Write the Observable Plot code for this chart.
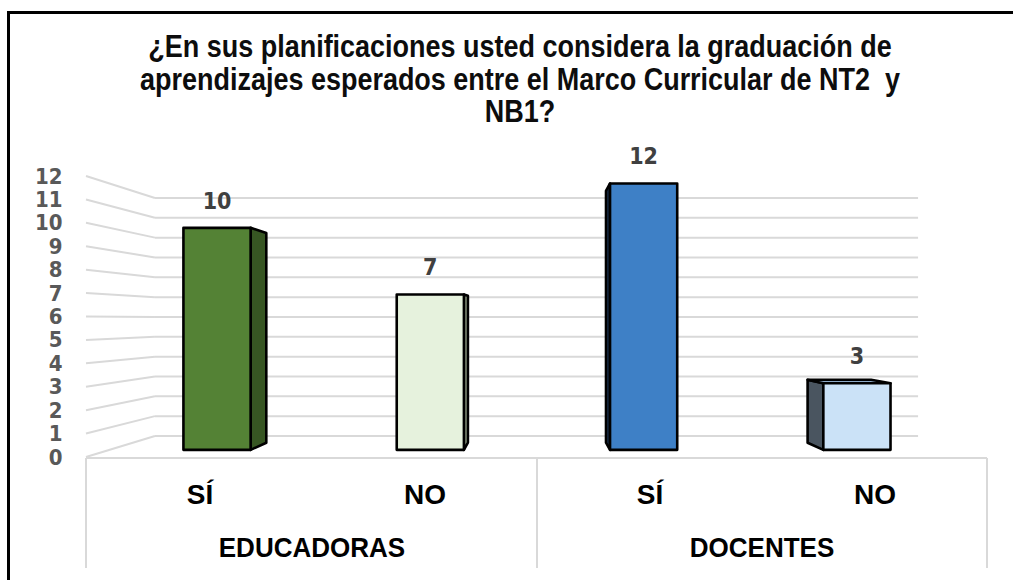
<!DOCTYPE html>
<html><head><meta charset="utf-8">
<script src="https://cdn.jsdelivr.net/npm/d3@7"></script>
<script src="https://cdn.jsdelivr.net/npm/@observablehq/plot@0.6"></script>
<style>
html,body{margin:0;padding:0;background:#fff;}
#wrap{position:relative;width:1013px;height:580px;overflow:hidden;background:#fff;font-family:"Liberation Sans",Arial,sans-serif;}
#frame{position:absolute;left:7px;top:11px;width:1030px;height:600px;border-left:3px solid #000;border-top:3px solid #000;box-sizing:border-box;}
#title{position:absolute;left:0;top:31px;width:1040px;text-align:center;font-weight:bold;font-size:31px;line-height:32.5px;color:#0d0d0d;transform:scaleX(0.87);transform-origin:520px 0;white-space:pre;}
#chart{position:absolute;left:0;top:140px;}
</style></head><body>
<div id="wrap"><div id="frame"></div><div id="title"></div><div id="chart"></div></div>
<script>
// ---- data ----
const titleLines = [
  "¿En sus planificaciones usted considera la graduación de",
  "aprendizajes esperados entre el Marco Curricular de NT2  y",
  "NB1?"
];
const groups = ["EDUCADORAS", "EDUCADORAS", "DOCENTES", "DOCENTES"];
const answers = ["SÍ", "NO", "SÍ", "NO"];
const values = [10, 7, 12, 3];
const yTicks = [0, 1, 2, 3, 4, 5, 6, 7, 8, 9, 10, 11, 12];

// ---- style ----
const frontColors = ["#548235", "#e6f2dd", "#3e80c6", "#cbe2f7"];
const sideColors  = ["#375623", "#a3b296", "#1c3350", "#4a5560"];
const topColors   = ["#6f9a52", "#f2f8ee", "#6ea0d6", "#8da9c6"];
const SB = 0.847, SF = 0.948, SK = 0.896, EYE = 5.87, BARW = 0.315;
const numFont = '"DejaVu Sans Condensed","DejaVu Sans",sans-serif';
const txtFont = '"Liberation Sans",Arial,sans-serif';

document.getElementById("title").textContent = titleLines.join("\n");

const keys = groups.map((g, i) => g + "|" + answers[i]);
const rows = keys.map((k, i) => ({key: k, group: groups[i], answer: answers[i], value: values[i]}));

function view(scales, dims) {
  const sx = scales.x, sy = scales.y;
  const x0 = dims.marginLeft, x1 = dims.width - dims.marginRight;
  const bw = typeof sx.bandwidth === "function" ? sx.bandwidth() : (sx.bandwidth ?? (x1 - x0) / keys.length);
  const cx = (x0 + x1) / 2, cy = sy(EYE);
  const P = (x, y, s) => [cx + s * (x - cx), cy + s * (y - cy)];
  return {sx, sy, x0, x1, bw, cx, cy, P};
}
const pts = a => a.map(p => p[0].toFixed(2) + "," + p[1].toFixed(2)).join(" ");

function walls(index, scales, values_, dims) {
  const v = view(scales, dims);
  const g = d3.create("svg:g").attr("stroke", "#d9d9d9").attr("stroke-width", 2).attr("fill", "none");
  for (const t of yTicks) {
    const y = v.sy(t);
    const a = v.P(v.x0, y, SB), b = v.P(v.x1, y, SB);
    g.append("line").attr("x1", v.x0).attr("y1", y).attr("x2", a[0]).attr("y2", a[1]);
    g.append("line").attr("x1", a[0]).attr("y1", a[1]).attr("x2", b[0]).attr("y2", b[1]);
  }
  const yb = v.sy(0) + 1, ye = yb + 110;
  g.append("line").attr("x1", v.x0).attr("y1", yb).attr("x2", v.x1).attr("y2", yb);
  const bounds = [v.x0];
  groups.forEach((gr, i) => { if (i > 0 && gr !== groups[i - 1]) bounds.push(v.sx(keys[i])); });
  bounds.push(v.x1);
  for (const bx of bounds) g.append("line").attr("x1", bx).attr("y1", yb).attr("x2", bx).attr("y2", ye);
  // group labels
  const lab = d3.create("svg:g");
  const uniq = [...new Set(groups)];
  for (const gr of uniq) {
    const ks = keys.filter((k, i) => groups[i] === gr);
    const xc = (v.sx(ks[0]) + v.sx(ks[ks.length - 1]) + v.bw) / 2;
    lab.append("text").attr("x", xc).attr("y", v.sy(0) + 91).attr("text-anchor", "middle")
      .attr("dominant-baseline", "central").attr("font-family", txtFont).attr("font-weight", "bold")
      .attr("font-size", 28).attr("fill", "#000")
      .attr("transform", `translate(${xc},0) scale(0.93,1) translate(${-xc},0)`).text(gr);
  }
  const out = d3.create("svg:g");
  out.append(() => g.node());
  out.append(() => lab.node());
  return out.node();
}

function bars(index, scales, values_, dims) {
  const v = view(scales, dims);
  const out = d3.create("svg:g");
  const g = out.append("g").attr("stroke", "#000").attr("stroke-width", 2.6).attr("stroke-linejoin", "round");
  const lab = out.append("g");
  rows.forEach((r, i) => {
    const xc = v.sx(r.key) + v.bw / 2, hw = v.bw * BARW / 2;
    const xl = xc - hw, xr = xc + hw, yt = v.sy(r.value), yb = v.sy(0);
    const sideX = xl > v.cx ? xl : xr;
    g.append("polygon").attr("points", pts([v.P(sideX, yt, SF), v.P(sideX, yt, SK), v.P(sideX, yb, SK), v.P(sideX, yb, SF)]))
      .attr("fill", sideColors[i]);
    if (yt > v.cy) {
      g.append("polygon").attr("points", pts([v.P(xl, yt, SF), v.P(xr, yt, SF), v.P(xr, yt, SK), v.P(xl, yt, SK)]))
        .attr("fill", topColors[i]);
    }
    const a = v.P(xl, yt, SF), b = v.P(xr, yb, SF);
    g.append("rect").attr("x", a[0]).attr("y", a[1]).attr("width", b[0] - a[0]).attr("height", b[1] - a[1])
      .attr("fill", frontColors[i]);
    const c = v.P(xc, yt, SF);
    lab.append("text").attr("x", c[0]).attr("y", c[1] - 27).attr("text-anchor", "middle")
      .attr("dominant-baseline", "central").attr("font-family", numFont).attr("font-size", 23)
      .attr("font-weight", "bold").attr("fill", "#404040").text(String(r.value));
  });
  return out.node();
}

const chart = Plot.plot({
  width: 1013,
  height: 440,
  marginLeft: 86,
  marginRight: 26,
  marginTop: 36,
  marginBottom: 123,
  style: {background: "transparent", overflow: "visible"},
  x: {type: "band", domain: keys, padding: 0, axis: null},
  y: {domain: [0, 12], axis: null},
  marks: [
    walls,
    Plot.axisY(yTicks, {tickSize: 0, tickPadding: 24, fontSize: 22, fontWeight: "bold", fontFamily: numFont, fill: "#595959", label: null}),
    Plot.axisX({tickSize: 0, tickPadding: 27, tickFormat: k => k.split("|")[1], fontSize: 28, fontWeight: "bold",
      fontFamily: txtFont, fill: "#000", label: null}),
    bars
  ]
});
document.getElementById("chart").appendChild(chart);
</script>
</body></html>
